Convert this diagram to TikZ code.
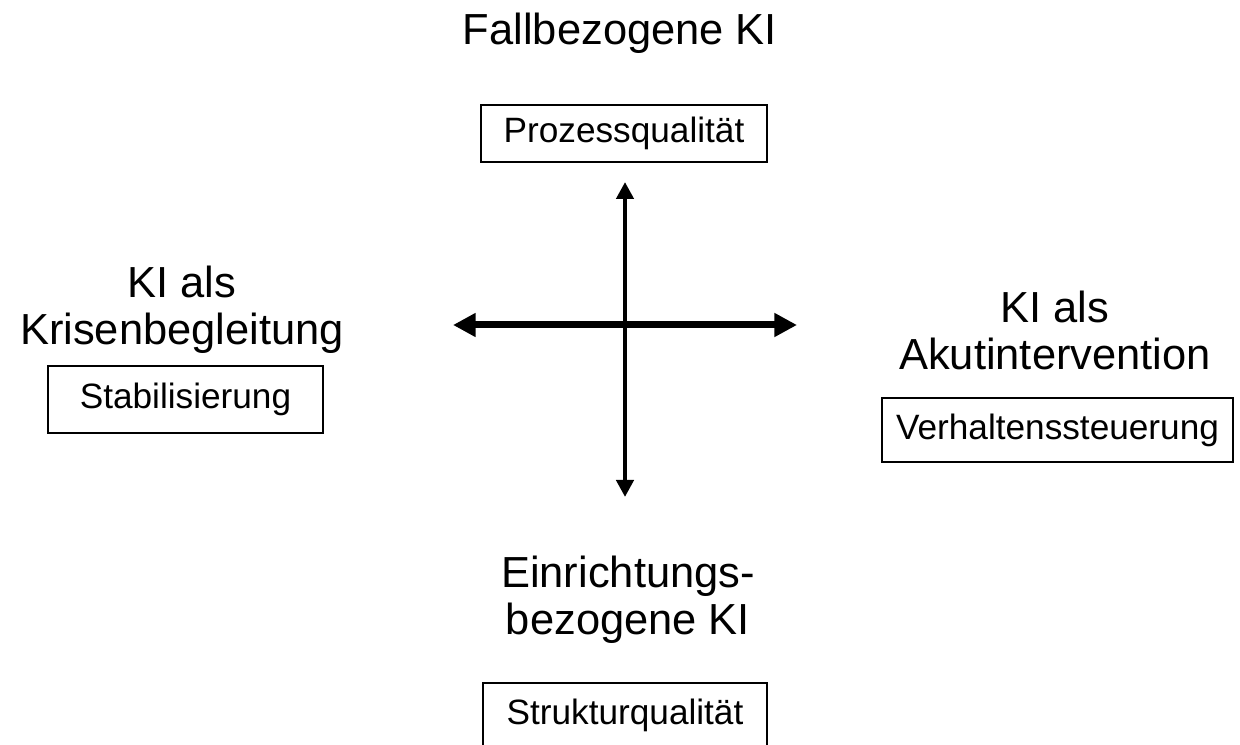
\documentclass[tikz,border=0pt]{standalone}
\usepackage{fontspec}
\setmainfont{Liberation Sans}
\usetikzlibrary{arrows.meta}
\begin{document}
\begin{tikzpicture}[x=0.75pt,y=-0.75pt,
  heading/.style={inner sep=0pt,align=center,font=\fontsize{32.6}{35.25}\selectfont},
  labelbox/.style={draw,line width=1pt,inner sep=0pt,font=\fontsize{26.4}{30}\selectfont},
  vaxis/.style={line width=3.4pt,{Triangle[length=12.75pt,width=12.75pt]}-{Triangle[length=12.75pt,width=12.75pt]}},
  haxis/.style={line width=5.25pt,{Triangle[length=17pt,width=17pt]}-{Triangle[length=17pt,width=17pt]}}]
\useasboundingbox (0,0) rectangle (1240,745);
\clip (0,0) rectangle (1240,745);
% headings
\node[heading,anchor=base] (top) at (620,45) {Fallbezogene KI};
\node[heading] (left) at (182,310) {KI als\\Krisenbegleitung};
\node[heading] (right) at (1055,330.5) {KI als\\Akutintervention};
\node[heading] (bottom) at (628,599.5) {Einrichtungs-\\bezogene KI};
% boxes
\node[labelbox,minimum width=214.5pt,minimum height=42.75pt] (proz) at (624,133.5) {Prozessqualität};
\node[labelbox,minimum width=206.25pt,minimum height=50.25pt] (stab) at (185.5,399.5) {Stabilisierung};
\node[labelbox,minimum width=263.25pt,minimum height=48pt] (verh) at (1057.5,430) {Verhaltenssteuerung};
\node[labelbox,minimum width=213pt,minimum height=48pt] (strk) at (625,715) {Strukturqualität};
% axes
\coordinate (vt) at (625,182);
\coordinate (vb) at (625,497);
\coordinate (hl) at (453,325);
\coordinate (hr) at (797,325);
\draw[vaxis] (vb) -- (vt);
\draw[haxis] (hl) -- (hr);
\end{tikzpicture}
\end{document}
